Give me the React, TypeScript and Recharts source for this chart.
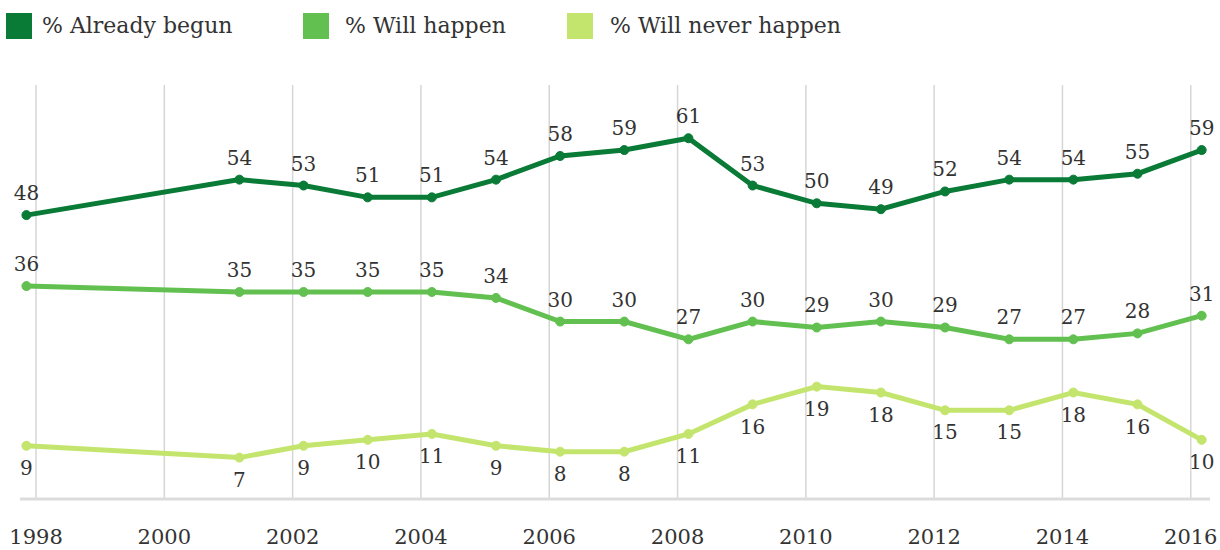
import React from 'react';
import { LineChart, Line, XAxis, YAxis, CartesianGrid, LabelList } from 'recharts';

// poll dates (fractional years) and survey results
const pollDates = [1997.85, 2001.17, 2002.17, 2003.17, 2004.17, 2005.17, 2006.17, 2007.17, 2008.17, 2009.17, 2010.17, 2011.17, 2012.17, 2013.17, 2014.17, 2015.17, 2016.17];
const alreadyBegun = [48, 54, 53, 51, 51, 54, 58, 59, 61, 53, 50, 49, 52, 54, 54, 55, 59];
const willHappen = [36, 35, 35, 35, 35, 34, 30, 30, 27, 30, 29, 30, 29, 27, 27, 28, 31];
const neverHappen = [9, 7, 9, 10, 11, 9, 8, 8, 11, 16, 19, 18, 15, 15, 18, 16, 10];
const yearTicks = [1998, 2000, 2002, 2004, 2006, 2008, 2010, 2012, 2014, 2016];
const xDomain = [1997.75, 2016.3];

const series = [
  { key: 'begun', name: '% Already begun', color: '#0a7a37' },
  { key: 'will', name: '% Will happen', color: '#62c050' },
  { key: 'never', name: '% Will never happen', color: '#c4e56d' },
];

const data = pollDates.map((d, i) => ({
  date: d,
  begun: alreadyBegun[i],
  will: willHappen[i],
  never: neverHappen[i],
}));

const FONT = '"DejaVu Serif", serif';
const TEXT = '#333333';

const legendPos = [
  { sq: 6, tx: 42 },
  { sq: 303, tx: 345 },
  { sq: 567, tx: 610 },
];

// vertical grid only at the year ticks (not at plot edges)
const gridX = ({ offset }: any) =>
  yearTicks.map((t) => offset.left + ((t - xDomain[0]) / (xDomain[1] - xDomain[0])) * offset.width);

export default function App() {
  return (
    <div style={{ position: 'absolute', left: 0, top: 0, width: 1220, height: 550, background: '#fff', fontFamily: FONT }}>
      {series.map((s, i) => (
        <React.Fragment key={s.key}>
          <div style={{ position: 'absolute', left: legendPos[i].sq, top: 13, width: 26, height: 26, background: s.color }} />
          <div style={{ position: 'absolute', left: legendPos[i].tx, top: 11, fontSize: 22, lineHeight: '30px', color: TEXT }}>
            {s.name}
          </div>
        </React.Fragment>
      ))}
      <LineChart width={1220} height={550} data={data} margin={{ top: 85, right: 10, bottom: 11, left: 20 }} style={{ position: 'absolute', left: 0, top: 0 }}>
        <CartesianGrid horizontal={false} stroke="#d6d6d6" strokeWidth={1.5} verticalCoordinatesGenerator={gridX} />
        <XAxis
          dataKey="date"
          type="number"
          domain={xDomain}
          ticks={yearTicks}
          height={40}
          tickLine={false}
          axisLine={{ stroke: '#dcdcdc', strokeWidth: 3 }}
          tickMargin={24}
          tick={{ fontSize: 21, fill: TEXT, fontFamily: FONT }}
          allowDataOverflow
        />
        <YAxis hide domain={[0, 70]} />
        {series.map((s) => (
          <Line
            key={s.key}
            dataKey={s.key}
            type="linear"
            stroke={s.color}
            strokeWidth={5}
            dot={{ r: 4.5, fill: s.color, stroke: s.color, strokeWidth: 1 }}
            isAnimationActive={false}
          >
            <LabelList
              dataKey={s.key}
              position={s.key === 'never' ? 'bottom' : 'top'}
              offset={15}
              style={{ fontSize: 20, fill: TEXT, fontFamily: FONT }}
            />
          </Line>
        ))}
      </LineChart>
    </div>
  );
}
